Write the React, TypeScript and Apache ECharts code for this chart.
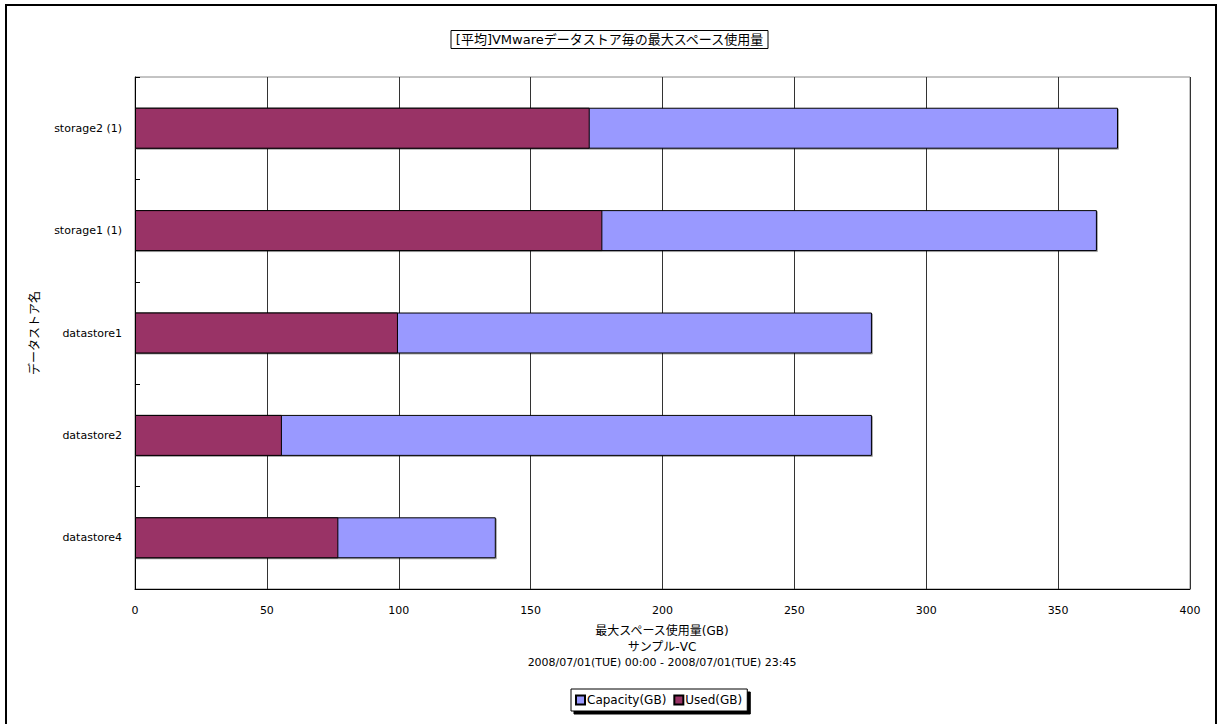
import React, { useEffect, useRef } from "react";
import * as echarts from "echarts";

const categories = ["storage2 (1)", "storage1 (1)", "datastore1", "datastore2", "datastore4"];
const capacityValues = [372.7, 364.7, 279.4, 279.4, 136.8];
const usedValues = [172.4, 177.2, 99.7, 55.7, 77.1];
const xTicks = { min: 0, max: 400, interval: 50 };
const titleText = "[平均]VMwareデータストア毎の最大スペース使用量";
const xAxisTitle = "最大スペース使用量(GB)";
const subTitle1 = "サンプル-VC";
const subTitle2 = "2008/07/01(TUE) 00:00 - 2008/07/01(TUE) 23:45";
const yAxisTitle = "データストア名";

const FONT = "'DejaVu Sans', 'Noto Sans CJK JP', sans-serif";

export default function App() {
  const ref = useRef<HTMLDivElement>(null);
  useEffect(() => {
    if (!ref.current) return;
    const chart = echarts.init(ref.current, null, { renderer: "svg" });
    chart.setOption({
      animation: false,
      backgroundColor: "#fff",
      textStyle: { fontFamily: FONT },
      title: {
        text: titleText,
        left: "center",
        top: 30,
        padding: [3, 4, 3, 4],
        borderColor: "#000",
        borderWidth: 1,
        textStyle: { fontSize: 13, fontWeight: "normal", color: "#000", fontFamily: FONT },
      },
      legend: {
        left: 571,
        top: 689,
        padding: [5, 5, 5, 4],
        itemGap: 7,
        itemWidth: 9,
        itemHeight: 9,
        icon: "rect",
        borderColor: "#000",
        borderWidth: 1,
        backgroundColor: "#fff",
        shadowColor: "#000",
        shadowOffsetX: 3,
        shadowOffsetY: 3,
        shadowBlur: 0,
        data: ["Capacity(GB)", "Used(GB)"],
        textStyle: { fontSize: 12, color: "#000", fontFamily: FONT, padding: [0, 0, 0, -3] },
      },
      graphic: [
        { type: "rect", shape: { x: 6, y: 5, width: 1210, height: 730 }, style: { fill: "none", stroke: "#000", lineWidth: 2 }, silent: true },
        { type: "rect", shape: { x: 135, y: 77, width: 1055, height: 512 }, style: { fill: "none", stroke: "#888", lineWidth: 1 }, silent: true },
        { type: "text", x: 662, y: 625, style: { text: xAxisTitle, fontSize: 12, fill: "#000", fontFamily: FONT, align: "center", verticalAlign: "top" } },
        { type: "text", x: 662, y: 641, style: { text: subTitle1, fontSize: 12, fill: "#000", fontFamily: FONT, align: "center", verticalAlign: "top" } },
        { type: "text", x: 662, y: 657, style: { text: subTitle2, fontSize: 11, fill: "#000", fontFamily: FONT, align: "center", verticalAlign: "top" } },
        { type: "text", x: 35, y: 333, rotation: Math.PI / 2, style: { text: yAxisTitle, fontSize: 12, fill: "#000", fontFamily: FONT, align: "center", verticalAlign: "middle" } },
      ],
      grid: { left: 135, right: 29, top: 77, bottom: 135, containLabel: false },
      xAxis: {
        type: "value",
        min: xTicks.min,
        max: xTicks.max,
        interval: xTicks.interval,
        axisLine: { show: true, lineStyle: { color: "#000", width: 1 } },
        axisTick: { show: false },
        axisLabel: { fontSize: 11, color: "#000", margin: 16, fontFamily: FONT },
        splitLine: { show: true, lineStyle: { color: "#333", width: 1 } },
      },
      yAxis: {
        type: "category",
        data: categories,
        inverse: true,
        axisLine: { show: true, lineStyle: { color: "#000", width: 1 } },
        axisTick: { show: true, inside: true, length: 5, lineStyle: { color: "#000" } },
        axisLabel: { fontSize: 11, color: "#000", margin: 13, fontFamily: FONT },
        splitLine: { show: false },
      },
      series: [
        {
          name: "Capacity(GB)",
          type: "bar",
          data: capacityValues,
          barWidth: "40%",
          barGap: "-100%",
          itemStyle: { color: "#9999FF", borderColor: "#000", borderWidth: 1, shadowColor: "rgba(0,0,0,0.35)", shadowOffsetX: 1, shadowOffsetY: 1, shadowBlur: 0 },
        },
        {
          name: "Used(GB)",
          type: "bar",
          data: usedValues,
          barWidth: "40%",
          barGap: "-100%",
          itemStyle: { color: "#993366", borderColor: "#000", borderWidth: 1 },
        },
      ],
    });
    return () => chart.dispose();
  }, []);
  return (
    <div
      ref={ref}
      style={{ position: "fixed", left: 0, top: 0, width: 1219, height: 724 }}
    />
  );
}
